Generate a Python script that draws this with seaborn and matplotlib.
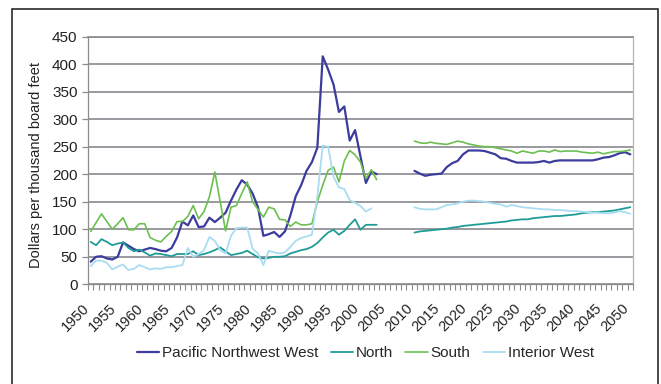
import numpy as np
import pandas as pd
import matplotlib
matplotlib.use("Agg")
import matplotlib.pyplot as plt
import seaborn as sns
from matplotlib.patches import Rectangle

# Stumpage prices, dollars per thousand board feet
regions = ["Pacific Northwest West", "North", "South", "Interior West"]

hist_start = 1950
proj_start = 2010

pnw_hist = [41, 50, 51, 47, 45, 50, 76, 70, 64, 60,
            63, 66, 64, 61, 60, 66, 85, 114, 107, 125,
            104, 105, 121, 113, 121, 130, 152, 172, 189, 181,
            165, 140, 88, 91, 95, 86, 96, 125, 160, 180,
            206, 222, 248, 414, 390, 363, 313, 323, 261, 280,
            232, 184, 205, 200]
north_hist = [77, 71, 82, 77, 71, 74, 76, 66, 60, 63,
              58, 52, 56, 55, 53, 51, 55, 55, 55, 60,
              53, 55, 58, 62, 67, 60, 53, 55, 57, 61,
              55, 49, 47, 48, 50, 50, 51, 56, 59, 62,
              64, 68, 75, 85, 94, 99, 90, 97, 108, 118,
              99, 108, 108, 108]
south_hist = [96, 112, 128, 114, 100, 110, 121, 99, 99, 110,
              110, 85, 80, 77, 87, 96, 114, 114, 123, 143,
              119, 132, 159, 204, 150, 97, 140, 143, 165, 186,
              150, 136, 122, 140, 137, 118, 117, 105, 113, 108,
              108, 110, 150, 180, 207, 213, 186, 224, 243, 235,
              222, 192, 208, 190]
iw_hist = [33, 43, 43, 39, 27, 32, 36, 26, 28, 35,
           31, 27, 29, 28, 31, 31, 33, 35, 66, 50,
           55, 62, 86, 79, 62, 56, 88, 102, 103, 103,
           65, 56, 35, 61, 58, 56, 58, 68, 79, 84,
           87, 90, 160, 252, 250, 195, 176, 173, 153, 148,
           142, 132, 138]

pnw_proj = [206, 201, 197, 199, 200, 201, 213, 220, 224, 236,
            243, 243, 243, 242, 239, 236, 229, 228, 224, 221,
            221, 221, 221, 222, 224, 221, 224, 225, 225, 225,
            225, 225, 225, 225, 227, 230, 231, 234, 238, 240,
            236]
north_proj = [94, 96, 97, 98, 99, 100, 101, 103, 104, 106,
              107, 108, 109, 110, 111, 112, 113, 114, 116, 117,
              118, 118, 120, 121, 122, 123, 124, 124, 125, 126,
              127, 129, 130, 131, 131, 132, 133, 134, 136, 138,
              140]
south_proj = [260, 257, 256, 258, 256, 255, 254, 257, 260, 258,
              255, 253, 251, 250, 250, 248, 246, 244, 242, 238,
              242, 240, 238, 242, 242, 240, 244, 241, 242, 242,
              242, 240, 239, 238, 240, 237, 239, 241, 241, 242,
              244]
iw_proj = [140, 137, 136, 136, 136, 140, 144, 145, 147, 150,
           152, 152, 151, 150, 148, 146, 145, 141, 144, 142,
           140, 139, 138, 137, 136, 136, 135, 135, 134, 133,
           133, 132, 131, 130, 130, 129, 129, 130, 133, 131,
           128]

x_tick_years = list(range(1950, 2051, 5))
y_ticks = list(range(0, 451, 50))

colors = {"Pacific Northwest West": "#3b3c9c",
          "North": "#1f9c98",
          "South": "#6cbf50",
          "Interior West": "#a8ddf2"}
widths = {"Pacific Northwest West": 1.6,
          "North": 1.3,
          "South": 1.2,
          "Interior West": 1.3}

series = {
    "Pacific Northwest West": (pnw_hist, pnw_proj),
    "North": (north_hist, north_proj),
    "South": (south_hist, south_proj),
    "Interior West": (iw_hist, iw_proj),
}

frames = []
for name, (hist, proj) in series.items():
    frames.append(pd.DataFrame({
        "Year": np.arange(hist_start, hist_start + len(hist)),
        "Price": hist, "Region": name, "Segment": name + " hist"}))
    frames.append(pd.DataFrame({
        "Year": np.arange(proj_start, proj_start + len(proj)),
        "Price": proj, "Region": name, "Segment": name + " proj"}))
df = pd.concat(frames, ignore_index=True)

sns.set_theme(style="white")
plt.rcParams["font.family"] = ["Liberation Sans", "DejaVu Sans"]

fig = plt.figure(figsize=(6.61, 3.84), dpi=100)
ax = fig.add_axes([88 / 661, 1 - 284.3 / 384, 545 / 661, 247.8 / 384])

sns.lineplot(data=df, x="Year", y="Price", hue="Region", size="Region",
             hue_order=regions, size_order=regions,
             palette=colors, sizes=widths, units="Segment", estimator=None,
             ax=ax)

ax.set_xlim(1949.5, 2050.5)
ax.set_ylim(0, 450)
ax.set_yticks(y_ticks)
ax.set_xticks(x_tick_years)
ax.set_xticks(np.arange(1949.5, 2051, 1), minor=True)
ax.set_xlabel("")
ax.set_ylabel("Dollars per thousand board feet", fontsize=10.5, color="#222222")
ax.yaxis.set_label_coords(-0.082, 0.48)

ax.grid(axis="y", color="#88888f", lw=1.2)
ax.grid(axis="x", visible=False)
ax.set_axisbelow(True)

for side in ["left", "bottom"]:
    ax.spines[side].set_color("#8c8c8c")
    ax.spines[side].set_linewidth(0.9)
ax.spines["right"].set_color("#b4b4b4")
ax.spines["right"].set_linewidth(0.9)
ax.spines["top"].set_color("#88888f")
ax.spines["top"].set_linewidth(1.2)

ax.tick_params(axis="y", which="major", left=True, length=4.5, width=0.9,
               color="#8c8c8c", labelsize=11, pad=3, labelcolor="#222222")
ax.tick_params(axis="x", which="major", bottom=True, length=0,
               labelbottom=False)
ax.tick_params(axis="x", which="minor", bottom=True, length=4, width=0.8,
               color="#8c8c8c", direction="out")

leg = ax.get_legend()
handles = leg.legend_handles
labels = [t.get_text() for t in leg.get_texts()]
leg.remove()
fig.legend(handles, labels, loc="center", bbox_to_anchor=(0.553, 0.081),
           ncol=4, frameon=False, fontsize=11, handlelength=1.45,
           handletextpad=0.2, columnspacing=0.8)

fig.patches.append(Rectangle((12 / 661, -0.05), (658 - 12) / 661, 1.05 - 9.5 / 384,
                             transform=fig.transFigure, fill=False,
                             edgecolor="#2a2a2a", linewidth=1.2))

# Year labels in figure coordinates: each year's axis position is taken from
# the axes transform, then the rotated label hangs below and to its left
to_fig = ax.transData + fig.transFigure.inverted()
for yr in x_tick_years:
    fx, fy = to_fig.transform((yr, 0))
    fig.text(fx - 8.5 / 661, fy - 17 / 384, str(yr), rotation=45,
             rotation_mode="anchor", ha="right", va="top",
             fontsize=10.5, color="#222222")

fig.savefig("out.png", dpi=100)
